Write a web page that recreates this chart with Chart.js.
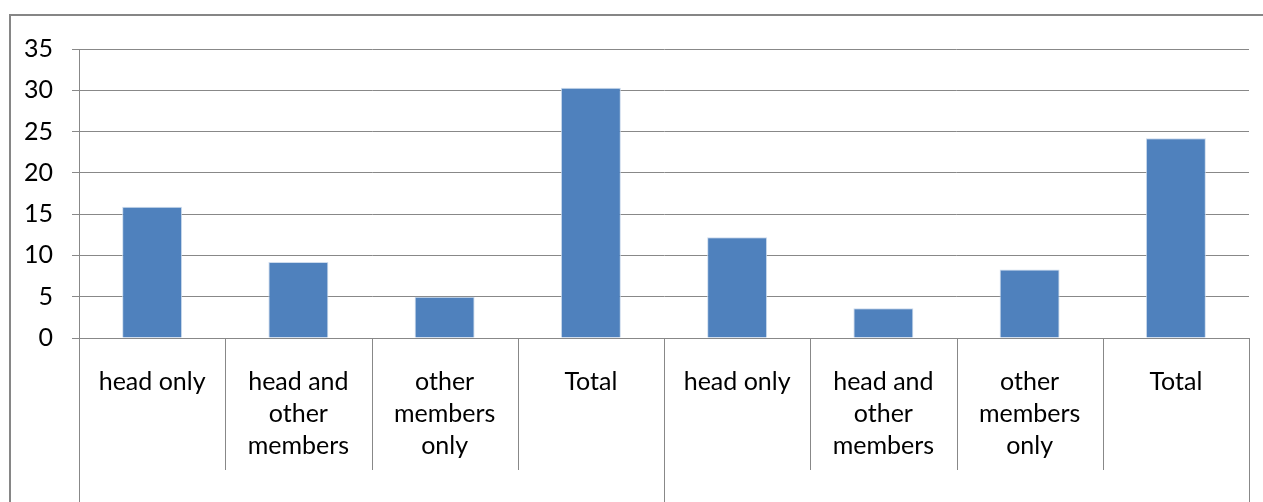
<!DOCTYPE html>
<html>
<head>
<meta charset="utf-8">
<script src="https://cdn.jsdelivr.net/npm/chart.js@4.4.1/dist/chart.umd.min.js"></script>
<style>
  html, body { margin: 0; padding: 0; background: #ffffff; overflow: hidden; }
  #wrap { width: 1263px; height: 502px; position: relative; }
</style>
</head>
<body>
<div id="wrap"><canvas id="chart" width="1263" height="502"></canvas></div>
<script>
// Category labels (multi-line), repeated for the two groups
const categories = [
  ["head only"], ["head and", "other", "members"], ["other", "members", "only"], ["Total"],
  ["head only"], ["head and", "other", "members"], ["other", "members", "only"], ["Total"]
];
// Number of categories in each group
const groupSizes = [4, 4];
// Bar values
const values = [15.9, 9.2, 5.0, 30.3, 12.2, 3.6, 8.3, 24.2];
// Value axis ticks
const yTicks = [0, 5, 10, 15, 20, 25, 30, 35];

const FONT = "Lato, 'Open Sans', sans-serif";
const LINE = '#888888';

// Draws the outer frame and the category / group separators below the axis
const separators = {
  id: 'separators',
  beforeDraw(chart) {
    const ctx = chart.ctx;
    ctx.save();
    ctx.fillStyle = '#ffffff';
    ctx.fillRect(0, 0, chart.width, chart.height);
    ctx.strokeStyle = '#868686';
    ctx.lineWidth = 2;
    ctx.strokeRect(10, 15, chart.width + 20, chart.height + 20);
    ctx.restore();
  },
  afterDraw(chart) {
    const { ctx, chartArea } = chart;
    const n = categories.length;
    const step = (chartArea.right - chartArea.left) / n;
    const boundaries = new Set([0]);
    let acc = 0;
    groupSizes.forEach(s => { acc += s; boundaries.add(acc); });
    ctx.save();
    ctx.strokeStyle = LINE;
    ctx.lineWidth = 1;
    for (let i = 0; i <= n; i++) {
      const x = Math.round(chartArea.left + i * step) + 0.5;
      const yEnd = boundaries.has(i) ? chart.height : chartArea.bottom + 132;
      ctx.beginPath();
      ctx.moveTo(x, chartArea.bottom);
      ctx.lineTo(x, yEnd);
      ctx.stroke();
    }
    ctx.restore();
  }
};

new Chart(document.getElementById('chart'), {
  type: 'bar',
  data: {
    labels: categories,
    datasets: [{
      data: values,
      backgroundColor: '#4F81BD',
      borderColor: 'rgba(200,215,235,0.9)',
      borderWidth: 1,
      borderSkipped: 'bottom',
      categoryPercentage: 1,
      barPercentage: 0.41
    }]
  },
  options: {
    responsive: false,
    animation: false,
    devicePixelRatio: 1,
    layout: { padding: { top: 49, right: 14, left: 0, bottom: 0 } },
    plugins: { legend: { display: false }, tooltip: { enabled: false } },
    scales: {
      x: {
        grid: { display: false },
        border: { display: true, color: LINE },
        ticks: {
          color: '#000000',
          font: { family: FONT, size: 25, lineHeight: 1.28 },
          padding: 20,
          maxRotation: 0,
          autoSkip: false
        },
        afterFit(scale) { scale.height = 164; }
      },
      y: {
        min: 0,
        max: 35,
        afterBuildTicks(scale) { scale.ticks = yTicks.map(v => ({ value: v })); },
        grid: { color: LINE, tickLength: 7, drawTicks: true },
        border: { display: true, color: LINE },
        ticks: {
          color: '#000000',
          font: { family: FONT, size: 25 },
          padding: 19
        },
        afterFit(scale) { scale.width = 79; }
      }
    }
  },
  plugins: [separators]
});
</script>
</body>
</html>
